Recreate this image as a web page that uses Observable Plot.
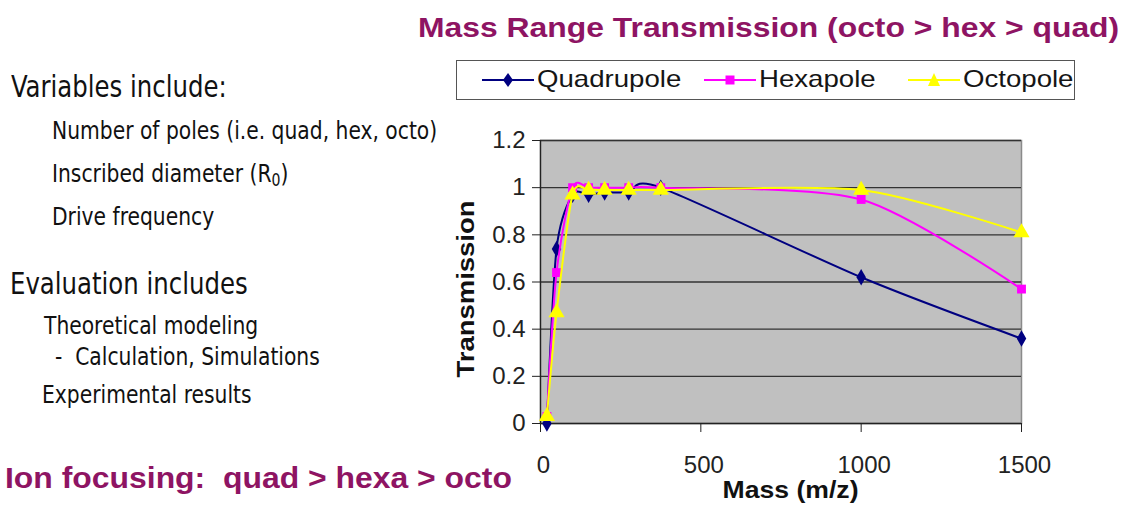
<!DOCTYPE html>
<html>
<head>
<meta charset="utf-8">
<script src="https://cdn.jsdelivr.net/npm/d3@7"></script>
<script src="https://cdn.jsdelivr.net/npm/@observablehq/plot@0.6"></script>
<style>
  html, body { margin: 0; padding: 0; background: #fff; }
  #wrap { position: relative; width: 1125px; height: 505px; overflow: hidden; font-family: "Liberation Sans", Arial, sans-serif; }
  #chart { position: absolute; left: 0; top: 0; }
  .t { position: absolute; white-space: nowrap; line-height: 1; transform-origin: 0 50%; }
  .cond { font-family: "Liberation Sans Narrow", "DejaVu Sans Condensed", "Liberation Sans", sans-serif; color: #111; }
  .big { font-size: 31px; transform: scaleX(0.875); }
  .small { font-size: 24.5px; transform: scaleX(0.92); }
  .purple { color: #8e1463; font-weight: bold; font-family: "Liberation Sans", Arial, sans-serif; }
  #legend { position: absolute; left: 456px; top: 60px; width: 619px; height: 40px; border: 1.5px solid #555; background: #fff; box-sizing: border-box; }
  .sw { position: absolute; top: 10px; }
  .lt { position: absolute; top: 6px; font-size: 24px; line-height: 1; color: #151515; transform: scaleX(1.15); transform-origin: 0 50%; white-space: nowrap; }
</style>
</head>
<body>
<div id="wrap">
  <div id="chart"></div>
  <div class="t purple" style="left:418px; top:14px; font-size:28px; transform: scaleX(1.138);">Mass Range Transmission (octo &gt; hex &gt; quad)</div>
  <div id="legend"></div>
  <div class="t cond big" style="left:11px; top:71px;">Variables include:</div>
  <div class="t cond small" style="left:52px; top:119px;">Number of poles (i.e. quad, hex, octo)</div>
  <div class="t cond small" style="left:52px; top:162px;">Inscribed diameter (R<sub style="font-size:17px; vertical-align:-4px;">0</sub>)</div>
  <div class="t cond small" style="left:52px; top:205px;">Drive frequency</div>
  <div class="t cond big" style="left:10px; top:268px;">Evaluation includes</div>
  <div class="t cond small" style="left:44px; top:314px;">Theoretical modeling</div>
  <div class="t cond small" style="left:55px; top:345px;">-&nbsp; Calculation, Simulations</div>
  <div class="t cond small" style="left:42px; top:383px;">Experimental results</div>
  <div class="t purple" style="left:5px; top:464px; font-size:29px; transform: scaleX(1.1);">Ion focusing:&nbsp; quad &gt; hexa &gt; octo</div>
</div>
<script>
const mass = [20, 50, 100, 150, 200, 275, 375, 1000, 1500];
const quadrupole = [0, 0.74, 0.97, 0.97, 0.98, 0.98, 1.0, 0.62, 0.36];
const hexapole = [0.03, 0.64, 1.0, 1.0, 1.0, 1.0, 1.0, 0.95, 0.57];
const octopole = [0.03, 0.47, 0.97, 0.99, 0.99, 0.99, 0.99, 0.99, 0.81];
const seriesNames = ["Quadrupole", "Hexapole", "Octopole"];
const seriesColors = ["#000080", "#ff00ff", "#ffff00"];
const seriesSymbols = ["diamond", "square", "triangle"];
const xTicks = [0, 500, 1000, 1500];
const yTicks = [0, 0.2, 0.4, 0.6, 0.8, 1, 1.2];

const seriesValues = [quadrupole, hexapole, octopole];
const data = [];
seriesNames.forEach((s, i) => mass.forEach((m, j) => data.push({series: s, mass: m, value: seriesValues[i][j]})));

const lineMarks = [];
seriesNames.forEach((s, i) => {
  const d = data.filter(r => r.series === s);
  lineMarks.push(Plot.line(d, {x: "mass", y: "value", stroke: seriesColors[i], strokeWidth: 2, curve: "cardinal", tension: 0.2}));
  lineMarks.push(Plot.dot(d, {x: "mass", y: "value", symbol: () => seriesSymbols[i], fill: seriesColors[i], stroke: "none", r: seriesSymbols[i] === "triangle" ? 6 : 5}));
});

const chart = Plot.plot({
  width: 1125,
  height: 505,
  marginLeft: 540,
  marginRight: 104,
  marginTop: 140,
  marginBottom: 82,
  style: {fontFamily: "Liberation Sans, Arial, sans-serif", background: "transparent"},
  x: {domain: [0, 1500]},
  y: {domain: [0, 1.2]},
  symbol: {type: "identity"},
  marks: [
    Plot.frame({fill: "#c0c0c0", stroke: "#8a8a8a", strokeWidth: 1.5}),
    Plot.gridY(yTicks.filter(t => t > 0), {stroke: "#333", strokeOpacity: 1, strokeWidth: 1.3}),
    Plot.ruleX([0], {stroke: "#222", strokeWidth: 1.3, y1: 0, y2: 1.2}),
    Plot.ruleY([0], {stroke: "#222", strokeWidth: 1.3}),
    Plot.axisY({ticks: yTicks, tickFormat: d => String(+d.toFixed(1)), tickSize: 8, tickPadding: 7, fontSize: 24, fill: "#222", stroke: "#222", label: null}),
    Plot.axisX({ticks: xTicks, tickFormat: () => "", tickSize: 9, stroke: "#222", label: null}),
    Plot.axisX({ticks: xTicks, tickFormat: d => String(d), tickSize: 0, tickPadding: 32, dx: 3, fontSize: 24, fill: "#222", label: null}),
    Plot.text(["Transmission"], {frameAnchor: "left", textAnchor: "start", dx: -74, dy: 95.5, rotate: -90, fontSize: 23, fontWeight: "bold", fill: "#111"}),
    Plot.text(["Mass (m/z)"], {frameAnchor: "bottom", textAnchor: "start", dx: -58.5, dy: 74, fontSize: 24, fontWeight: "bold", fill: "#111"}),
    ...lineMarks
  ]
});
// stretch the two axis titles to the reference's text lengths
d3.select(chart).selectAll("text").each(function() {
  const s = this.textContent;
  if (s === "Transmission") { this.setAttribute("textLength", 177); this.setAttribute("lengthAdjust", "spacingAndGlyphs"); }
  if (s === "Mass (m/z)") { this.setAttribute("textLength", 136); this.setAttribute("lengthAdjust", "spacingAndGlyphs"); }
});
document.getElementById("chart").appendChild(chart);

// Legend
const legend = document.getElementById("legend");
const swatchLefts = [25, 247, 451];
const symbolPaths = {
  diamond: "M26,2 L31,9 L26,16 L21,9 Z",
  square: "M21.5,4.5 h9 v9 h-9 Z",
  triangle: "M26,2 L32,15 L20,15 Z"
};
seriesNames.forEach((s, i) => {
  const sw = document.createElement("div");
  sw.className = "sw";
  sw.style.left = swatchLefts[i] + "px";
  sw.innerHTML = `<svg width="52" height="18"><line x1="0" y1="9" x2="52" y2="9" stroke="${seriesColors[i]}" stroke-width="2"/><path d="${symbolPaths[seriesSymbols[i]]}" fill="${seriesColors[i]}"/></svg>`;
  legend.appendChild(sw);
  const lt = document.createElement("div");
  lt.className = "lt";
  lt.style.left = (swatchLefts[i] + 55) + "px";
  lt.textContent = s;
  legend.appendChild(lt);
});
</script>
</body>
</html>
